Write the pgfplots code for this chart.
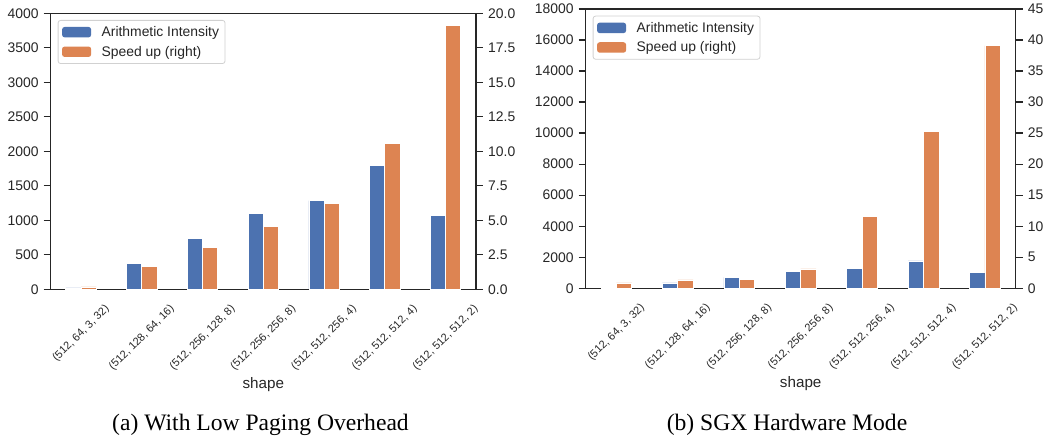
\documentclass[border=0pt]{standalone}
\usepackage{pgfplots}
\pgfplotsset{compat=1.18}
\usepackage{fontspec}
\setmainfont{Liberation Serif}
\newfontfamily\arial{Liberation Sans}
\definecolor{sbblue}{RGB}{76,114,176}
\definecolor{sborange}{RGB}{221,132,82}
\definecolor{axgray}{RGB}{38,38,38}
\pgfplotsset{
  mylegend/.style={legend image code/.code={\fill[##1,draw=none] (0pt,-5.2pt) rectangle (29pt,5.2pt);}},
  base/.style={
    scale only axis, anchor=south west,
    xmin=-0.5, xmax=6.5, ymin=0,
    axis line style={axgray, line width=1.3pt},
    tick style={axgray, line width=1.3pt},
    major tick length=7pt, tick align=outside,
    scaled y ticks=false,
    /pgf/number format/assume math mode=true,
    /pgf/number format/1000 sep={},
    yticklabel style={font=\arial\fontsize{13.9}{16}\selectfont, text=axgray, inner sep=0pt},
  },
  prim/.style={
    base, ytick pos=left,
    yticklabel style={xshift=-5pt},
    xtick={0,...,6},
    xticklabels={
      {\rotatebox{45}{(512, 64, 3, 32)}},
      {\rotatebox{45}{(512, 128, 64, 16)}},
      {\rotatebox{45}{(512, 256, 128, 8)}},
      {\rotatebox{45}{(512, 256, 256, 8)}},
      {\rotatebox{45}{(512, 512, 256, 4)}},
      {\rotatebox{45}{(512, 512, 512, 4)}},
      {\rotatebox{45}{(512, 512, 512, 2)}}},
    major x tick style={draw=none},
    xticklabel style={font=\arial\fontsize{11}{13}\selectfont, text=axgray, anchor=north, inner sep=0pt, yshift=-7pt},
    xlabel={shape},
    xlabel style={font=\arial\fontsize{15.2}{18}\selectfont, text=axgray, at={(axis description cs:0.5,0)}, anchor=base, yshift=-99pt},
  },
  sec/.style={
    base, axis y line*=right, axis x line=none, xtick=\empty,
    yticklabel style={xshift=5pt},
    legend style={at={(0,1)}, anchor=north west, xshift=7pt, yshift=-6.7pt,
      draw=black!18, line width=0.8pt, rounded corners=2.5pt, fill=white,
      font=\arial\fontsize{13.9}{16}\selectfont, text=axgray,
      inner xsep=4pt, inner ysep=4pt, row sep=4pt,
      nodes={inner sep=2pt},
      /tikz/every odd column/.append style={column sep=8.5pt}},
    legend cell align=left,
  },
}
\begin{document}
\begin{tikzpicture}
% ---------- (a) ----------
\begin{axis}[prim, at={(50.7pt,148.7pt)}, width=425.3pt, height=276pt,
  ymax=4000, ytick={0,500,...,4000}]
\addplot[ybar, bar width=0.25, bar shift=-0.125, fill=sbblue, draw=white, line width=0.8pt]
  coordinates {(0,19) (1,372) (2,739) (3,1101) (4,1285) (5,1792) (6,1072)};
\end{axis}
\begin{axis}[sec, at={(50.7pt,148.7pt)}, width=425.3pt, height=276pt,
  ymax=20, ytick={0,2.5,...,20},
  yticklabel style={/pgf/number format/fixed, /pgf/number format/fixed zerofill, /pgf/number format/precision=1}]
\addlegendimage{mylegend, fill=sbblue}
\addlegendentry{Arithmetic Intensity}
\addplot[ybar, bar width=0.25, bar shift=0.125, fill=sborange, draw=white, line width=0.8pt, mylegend]
  coordinates {(0,0.17) (1,1.67) (2,3.00) (3,4.57) (4,6.21) (5,10.58) (6,19.13)};
\addlegendentry{Speed up (right)}
\end{axis}
% ---------- (b) ----------
\begin{axis}[prim, at={(585.7pt,149.7pt)}, width=430pt, height=279.3pt,
  ymax=18000, ytick={0,2000,...,18000}]
\addplot[ybar, bar width=0.25, bar shift=-0.125, fill=sbblue, draw=white, line width=0.8pt]
  coordinates {(0,19) (1,344) (2,709) (3,1074) (4,1267) (5,1761) (6,1031)};
\end{axis}
\begin{axis}[sec, at={(585.7pt,149.7pt)}, width=430pt, height=279.3pt,
  ymax=45, ytick={0,5,...,45}]
\addlegendimage{mylegend, fill=sbblue}
\addlegendentry{Arithmetic Intensity}
\addplot[ybar, bar width=0.25, bar shift=0.125, fill=sborange, draw=white, line width=0.8pt, mylegend]
  coordinates {(0,0.86) (1,1.34) (2,1.45) (3,3.11) (4,11.6) (5,25.2) (6,39.1)};
\addlegendentry{Speed up (right)}
\end{axis}
\node[font=\fontsize{23.6}{28}\selectfont, anchor=base] at (260.5pt,7.3pt) {(a) With Low Paging Overhead};
\node[font=\fontsize{23.6}{28}\selectfont, anchor=base] at (787pt,7.3pt) {(b) SGX Hardware Mode};
\pgfresetboundingbox
\path[use as bounding box] (0,0) rectangle (1046pt,438pt);
\end{tikzpicture}
\end{document}
